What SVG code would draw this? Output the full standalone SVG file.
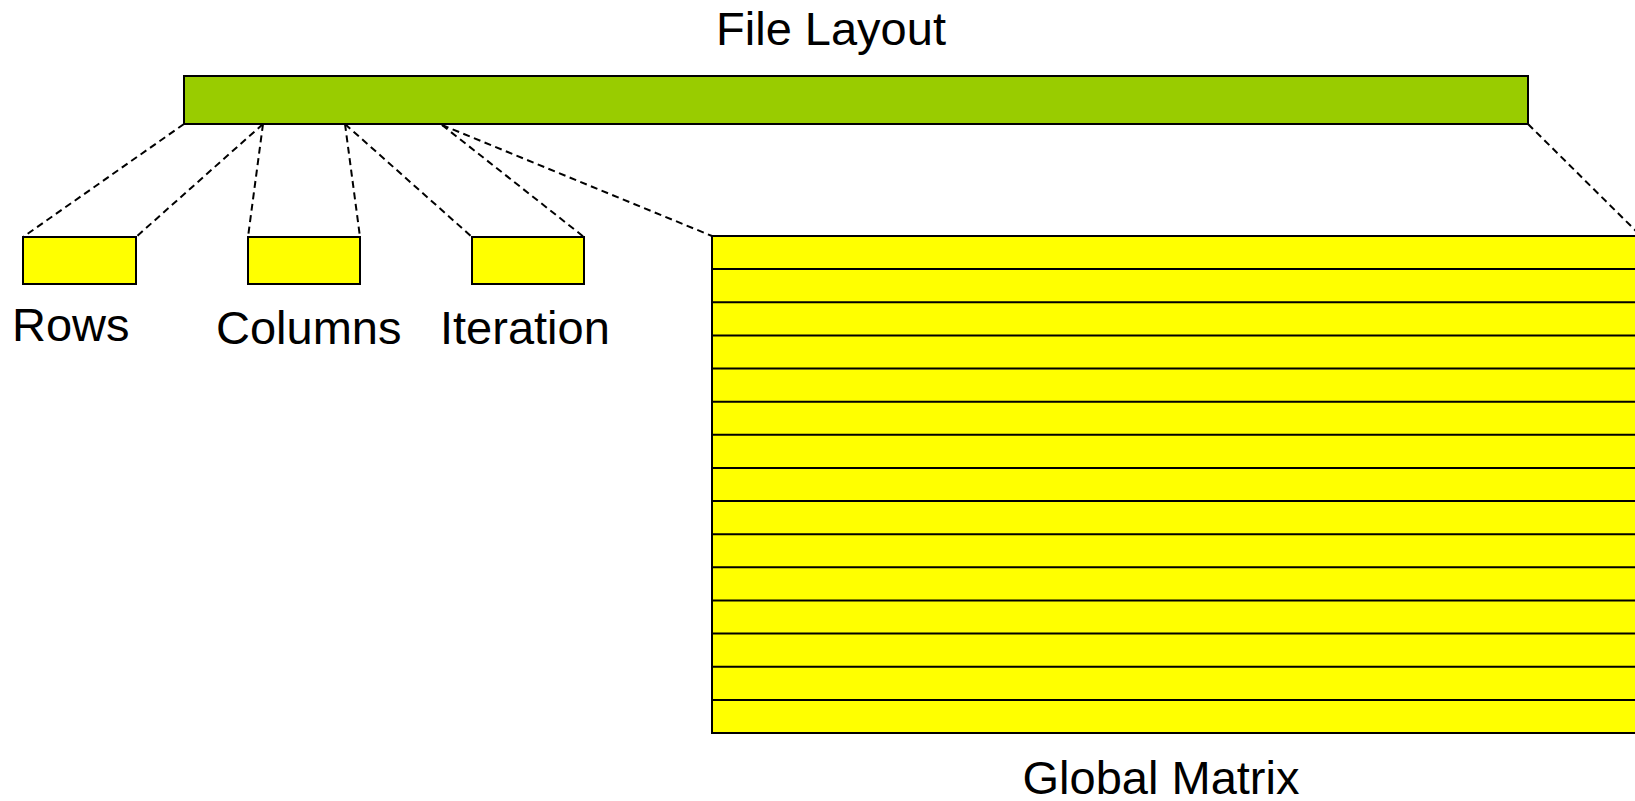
<svg xmlns="http://www.w3.org/2000/svg" width="1635" height="801" viewBox="0 0 1635 801">
  <style>
    .label { font-family: "Liberation Sans", Arial, sans-serif; font-size: 47px; fill: #000; }
    .box { stroke: #000; stroke-width: 2; }
    .field { fill: #ffff00; }
    .lead { stroke: #000; stroke-width: 2; stroke-dasharray: 7 4.5; fill: none; }
    .rowline { stroke: #000; stroke-width: 2; }
  </style>

  <!-- title -->
  <text class="label" x="831" y="45" text-anchor="middle">File Layout</text>

  <!-- the whole file as one strip -->
  <g id="file">
    <rect class="box" x="184" y="76" width="1344" height="48" fill="#99cc00"/>
  </g>

  <!-- header fields -->
  <g id="rows">
    <rect class="box field" x="23" y="237" width="113" height="47"/>
    <text class="label" x="12" y="341">Rows</text>
  </g>
  <g id="columns">
    <rect class="box field" x="248" y="237" width="112" height="47"/>
    <text class="label" x="216" y="344">Columns</text>
  </g>
  <g id="iteration">
    <rect class="box field" x="472" y="237" width="112" height="47"/>
    <text class="label" x="440" y="344">Iteration</text>
  </g>

  <!-- matrix body, one band per row -->
  <g id="matrix">
    <rect class="box field" x="712" y="236" width="940" height="497"/>
    <g class="rowline">
      <line x1="712" y1="269.1" x2="1652" y2="269.1"/>
      <line x1="712" y1="302.3" x2="1652" y2="302.3"/>
      <line x1="712" y1="335.4" x2="1652" y2="335.4"/>
      <line x1="712" y1="368.5" x2="1652" y2="368.5"/>
      <line x1="712" y1="401.7" x2="1652" y2="401.7"/>
      <line x1="712" y1="434.8" x2="1652" y2="434.8"/>
      <line x1="712" y1="467.9" x2="1652" y2="467.9"/>
      <line x1="712" y1="501.1" x2="1652" y2="501.1"/>
      <line x1="712" y1="534.2" x2="1652" y2="534.2"/>
      <line x1="712" y1="567.3" x2="1652" y2="567.3"/>
      <line x1="712" y1="600.5" x2="1652" y2="600.5"/>
      <line x1="712" y1="633.6" x2="1652" y2="633.6"/>
      <line x1="712" y1="666.7" x2="1652" y2="666.7"/>
      <line x1="712" y1="699.9" x2="1652" y2="699.9"/>
    </g>
    <text class="label" x="1161" y="794" text-anchor="middle">Global Matrix</text>
  </g>

  <!-- dashed leaders from the strip to each section -->
  <g id="connectors" class="lead">
    <line x1="184" y1="124" x2="23" y2="237"/>
    <line x1="263" y1="124" x2="136" y2="237"/>
    <line x1="263" y1="124" x2="248" y2="237"/>
    <line x1="345" y1="124" x2="360" y2="237"/>
    <line x1="345" y1="124" x2="472" y2="237"/>
    <line x1="442" y1="125" x2="584" y2="237"/>
    <line x1="442" y1="125" x2="712" y2="236"/>
    <line x1="1528" y1="124" x2="1641" y2="236"/>
  </g>
</svg>
